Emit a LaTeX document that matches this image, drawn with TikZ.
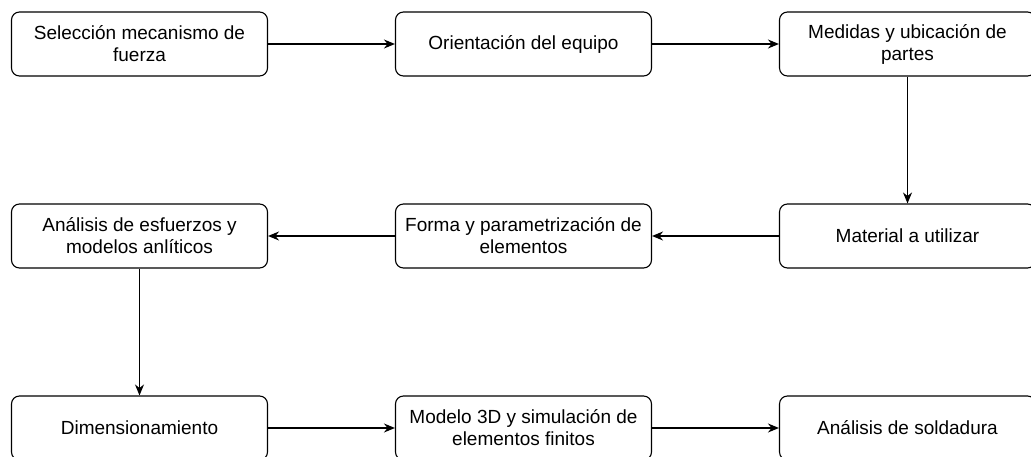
\documentclass[tikz,border=0pt]{standalone}
\usepackage{fontspec}
\setmainfont{Liberation Sans}
\usetikzlibrary{arrows.meta}

\tikzset{
	box/.style = {draw, rounded corners = 8pt, minimum width = 256pt, minimum height = 64pt, align = center, line width = 1.1pt, font = \fontsize{19}{22}\selectfont, inner sep = 2pt},
	flow/.style = {-{Stealth[length=11pt,width=9pt]}, line width = 1.2pt}
}

\begin{document}
\begin{tikzpicture}[x=1pt, y=-1pt]
	\useasboundingbox (0,0) rectangle (1031,457);
	\clip (0,0) rectangle (1031,457);
	\node [box] (A) at (139.5,44) {Selección mecanismo de\\fuerza};
	\node [box] (B) at (523.5,44) {Orientación del equipo};
	\node [box] (C) at (907.5,44) {Medidas y ubicación de\\partes};
	
	\node [box] (D) at (907.5,236) {Material a utilizar};
	\node [box] (E) at (523.5,236) {Forma y parametrización de\\elementos};
	\node [box] (F) at (139.5,236) {Análisis de esfuerzos y\\modelos anlíticos};
	
	\node [box] (G) at (139.5,428) {Dimensionamiento};
	\node [box] (H) at (523.5,428) {Modelo 3D y simulación de\\elementos finitos};
	\node [box] (I) at (907.5,428) {Análisis de soldadura};
	
	\draw[flow] (A) -- (B);
	\draw[flow] (B) -- (C);
	\draw[flow] (C) -- (D);
	\draw[flow] (D) -- (E);
	\draw[flow] (E) -- (F);
	\draw[flow] (F) -- (G);
	\draw[flow] (G) -- (H);
	\draw[flow] (H) -- (I);

\end{tikzpicture}
\end{document}
